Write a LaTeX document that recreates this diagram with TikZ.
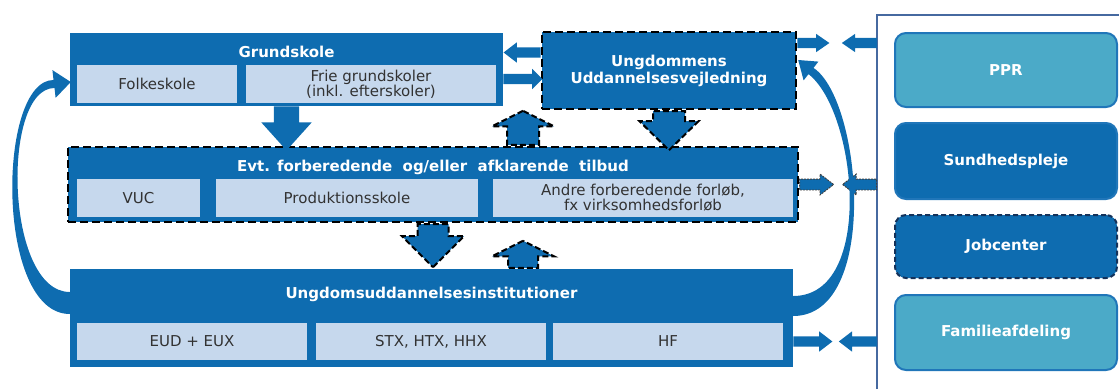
\documentclass[tikz,border=0pt]{standalone}
\usepackage{fontspec}
\setmainfont{DejaVu Sans}
\usetikzlibrary{shapes.arrows,calc}

\definecolor{uublue}{RGB}{14,108,176}
\definecolor{uulight}{RGB}{198,216,237}
\definecolor{uuteal}{RGB}{75,170,200}
\definecolor{uuedge}{RGB}{32,118,185}
\definecolor{uudark}{RGB}{20,50,90}
\definecolor{uuframe}{RGB}{70,105,160}
\definecolor{uutext}{RGB}{50,50,50}

\newcommand{\boldtxt}{\fontsize{15}{17}\selectfont\bfseries}
\newcommand{\plaintxt}{\fontsize{15}{15}\selectfont}

\tikzset{
  panel/.style={fill=uublue, inner sep=0pt},
  dashedge/.style={draw=black, line width=2.4pt, dash pattern=on 8pt off 4pt},
  heading/.style={text=white, font=\boldtxt, inner sep=0pt, align=center},
  cell/.style={fill=uulight, text=uutext, font=\plaintxt, inner sep=0pt, align=center},
  partner/.style={rounded corners=11pt, draw=uuedge, line width=2pt, text=white, font=\boldtxt, minimum width=222pt},
  blockarr/.style={single arrow, fill=uublue, inner xsep=0pt, anchor=tail},
  arredge/.style={draw=black, line width=2pt, dash pattern=on 6pt off 3pt},
  thinedge/.style={draw=black!75, line width=0.9pt, dash pattern=on 2pt off 1pt},
  sidearr/.style={blockarr, inner ysep=5pt, single arrow head extend=5pt, single arrow tip angle=75},
}

\begin{document}
\begin{tikzpicture}[x=1pt,y=-1pt]
\useasboundingbox (0,0) rectangle (1119,389);

% Grundskole
\node[panel, minimum width=433pt, minimum height=73pt] (grund) at (286.5,69.5) {};
\node[heading] (grundt) at (286.5,52) {Grundskole};
\node[cell, minimum width=160pt, minimum height=38pt] (folk) at (157,84) {Folkeskole};
\node[cell, minimum width=250pt, minimum height=38pt] (frie) at (371,84) {Frie grundskoler\\(inkl. efterskoler)};

% UU
\node[panel, dashedge, heading, minimum width=254pt, minimum height=77pt] (uu) at (669,70.5) {Ungdommens\\Uddannelsesvejledning};

% forberedende tilbud
\node[panel, dashedge, minimum width=730pt, minimum height=75pt] (evt) at (433,184.5) {};
\node[heading] (evtt) at (433,167) {Evt. forberedende\ \ og/eller\ \ afklarende\ \ tilbud};
\node[cell, minimum width=123pt, minimum height=38pt] (vuc) at (138.5,198) {VUC};
\node[cell, minimum width=262pt, minimum height=38pt] (prod) at (347,198) {Produktionsskole};
\node[cell, minimum width=300pt, minimum height=38pt] (andre) at (643,198) {Andre forberedende forløb,\\fx virksomhedsforløb};

% ungdomsuddannelser
\node[panel, minimum width=723pt, minimum height=98pt] (ung) at (431.5,318) {};
\node[heading] (ungt) at (431.5,294) {Ungdomsuddannelsesinstitutioner};
\node[cell, minimum width=230pt, minimum height=37pt] (eud) at (192,341.5) {EUD + EUX};
\node[cell, minimum width=230pt, minimum height=37pt] (stx) at (431,341.5) {STX, HTX, HHX};
\node[cell, minimum width=230pt, minimum height=37pt] (hf) at (668,341.5) {HF};

% partners
\coordinate (ftop) at (877,15);
\draw[uuframe, line width=2.5pt] (877,389) -- (ftop) -- (1119,15);
\node[partner, fill=uuteal, minimum height=74pt] (ppr) at (1006,70) {PPR};
\node[partner, fill=uublue, minimum height=76pt] (sund) at (1006,161) {Sundhedspleje};
\node[partner, fill=uublue, draw=uudark, dash pattern=on 5pt off 3pt, minimum height=63pt] (job) at (1006,246.5) {Jobcenter};
\node[partner, fill=uuteal, minimum height=75pt] (fam) at (1006,332.5) {Familieafdeling};

% block arrows between the boxes
\node[blockarr, rotate=-90, minimum height=44pt, inner ysep=12.5pt, single arrow head extend=12.5pt, single arrow tip angle=84] (gdown) at (grund.south) {};
\node[blockarr, arredge, rotate=90, minimum height=34pt, inner ysep=15pt, single arrow head extend=15pt, single arrow tip angle=127] (evtup) at ($(evt.north)+(90,0)$) {};
\node[blockarr, arredge, rotate=-90, minimum height=39pt, inner ysep=15pt, single arrow head extend=13.5pt, single arrow tip angle=91] (uudown) at (uu.south) {};
\node[blockarr, arredge, rotate=-90, minimum height=43pt, inner ysep=14.5pt, single arrow head extend=15.5pt, single arrow tip angle=90] (evtdown) at (evt.south) {};
\node[blockarr, arredge, rotate=90, minimum height=27pt, inner ysep=14pt, single arrow head extend=16pt, single arrow tip angle=127] (ungup) at (evtup.tail |- ung.north) {};
\node[sidearr, rotate=180, minimum height=37pt] (uuleft) at ($(uu.west)+(0,-18)$) {};
\node[sidearr, minimum height=39pt, single arrow tip angle=90] (grundright) at ($(grund.east)+(0,9.5)$) {};

% arrows to and from the partners
\node[sidearr, minimum height=32pt, single arrow head extend=4pt, single arrow tip angle=69] (uuout) at ($(uu.east)+(0,-27.5)$) {};
\node[sidearr, rotate=180, minimum height=35pt, single arrow head extend=4pt, single arrow tip angle=69] (uuin) at (ftop |- uuout.tail) {};
\node[sidearr, thinedge, minimum height=34pt] (evtout) at (evt.east) {};
\node[sidearr, thinedge, rotate=180, minimum height=34pt] (evtin) at (ftop |- evt.east) {};
\node[sidearr, minimum height=39pt] (ungout) at (ung.east |- hf) {};
\node[sidearr, rotate=180, minimum height=38pt] (ungin) at (ftop |- hf) {};

% curved arrows
\fill[uublue] ($(ung.west)+(0,-4)$) .. controls (-5,314) and (-3,80) .. (53.5,80) -- (52.4,70.1)
  -- ($(grund.west)+(1,12.5)$) -- (55.6,97.9) -- (54.5,88) .. controls (1,88) and (5,292) .. ($(ung.west)+(0,-26)$) -- cycle;
\fill[uublue] ($(ung.east)+(0,-2)$) .. controls (880,316) and (862,100) .. (813.5,67.9) -- (818.4,61.6)
  -- ($(uu.east)+(1,-10.5)$) -- (803.6,80.4) -- (808.5,74.1) .. controls (857,112) and (875,296) .. ($(ung.east)+(0,-22)$) -- cycle;
\end{tikzpicture}
\end{document}
